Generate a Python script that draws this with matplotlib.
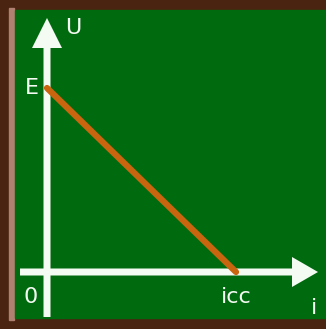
import matplotlib
matplotlib.use("Agg")
import matplotlib.pyplot as plt
from matplotlib.patches import Rectangle, FancyArrow

# Data: linear source characteristic U = E - r*i
current = [0.0, 1.0]      # 0 .. icc
voltage = [1.0, 0.0]      # E .. 0
tick_x_labels = ["0", "icc"]
tick_y_labels = ["E"]
axis_labels = ["i", "U"]

W, H = 326, 329
fig = plt.figure(figsize=(W / 100, H / 100), dpi=100)
ax = fig.add_axes([0, 0, 1, 1])
sx, sy = 189.0, 184.0
ox, oy = 47.0, 272.0
ax.set_xlim(-ox / sx, (W - ox) / sx)
ax.set_ylim(-(H - oy) / sy, oy / sy)
ax.axis("off")

def px(x, y):
    return ((x - ox) / sx, (oy - y) / sy)

# frame
fig.patch.set_facecolor("#4a2410")
x0, y0 = px(0, 329)
ax.add_patch(Rectangle((x0, y0), W / sx, H / sy, color="#4a2410", zorder=0))
a, b = px(9, 320)
ax.add_patch(Rectangle((a, b), 5 / sx, 312 / sy, color="#b08070", zorder=0.5))
# green board
a, b = px(15, 318)
ax.add_patch(Rectangle((a, b), (W - 15) / sx, (318 - 10) / sy, color="#006a0e", zorder=1))

white = "#f4fbf2"
yb = px(0, 317)[1]
yt = px(0, 18)[1]
ax.add_patch(FancyArrow(0, yb, 0, yt - yb, width=7 / sx, head_width=30 / sx,
                        head_length=30 / sy, length_includes_head=True,
                        color=white, lw=0, zorder=3))
xl = px(20, 0)[0]
xr = px(318, 0)[0]
ax.add_patch(FancyArrow(xl, 0, xr - xl, 0, width=7 / sy, head_width=30 / sy,
                        head_length=26 / sx, length_includes_head=True,
                        color=white, lw=0, zorder=3))

ax.plot(current, voltage, color="#c8650e", lw=4.5, solid_capstyle="round", zorder=4)

fs = 16
kw = dict(color=white, fontsize=fs, ha="center", va="center", zorder=5, family="DejaVu Sans")
ax.text(*px(32, 88), tick_y_labels[0], **kw)
ax.text(*px(73, 28), axis_labels[1], **kw)
ax.text(*px(31, 297), tick_x_labels[0], **kw)
ax.text(*px(236, 297), tick_x_labels[1], **kw)
ax.text(*px(314, 308), axis_labels[0], **kw)

fig.savefig("out.png", dpi=100)
